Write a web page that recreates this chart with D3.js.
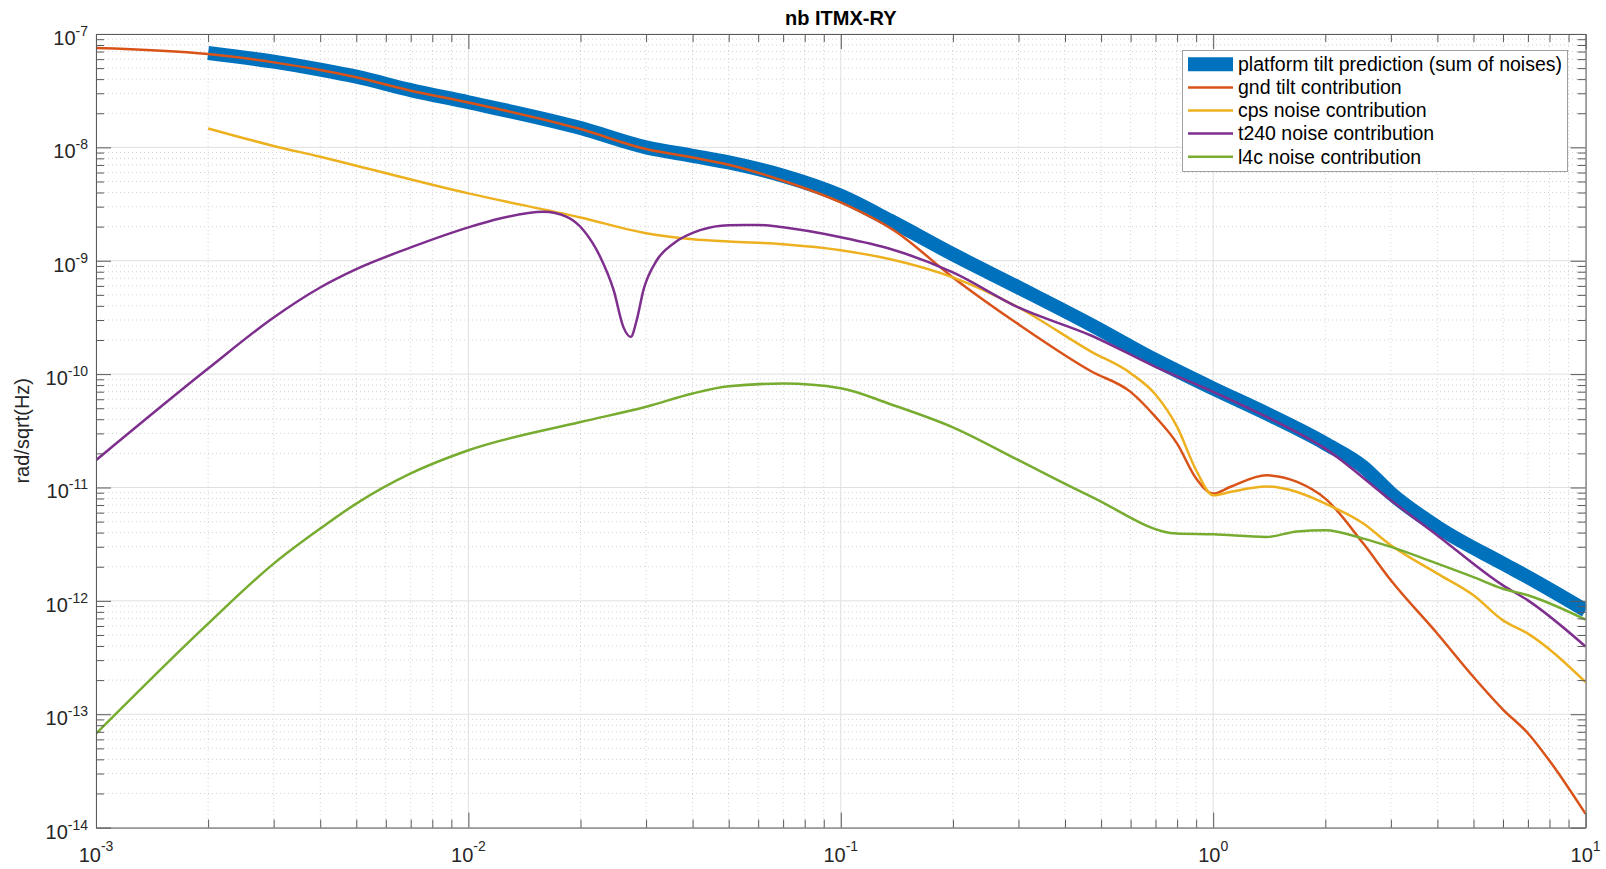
<!DOCTYPE html>
<html>
<head>
<meta charset="utf-8">
<script src="https://cdn.jsdelivr.net/npm/d3@7"></script>
<style>
  body { margin: 0; background: #fff; }
  text { font-family: "Liberation Sans", Arial, Helvetica, sans-serif; }
</style>
</head>
<body>
<div id="chart"></div>
<script>
// values (frequency in Hz, amplitude in rad/sqrt(Hz))
const sumFreq = [0.002, 0.003, 0.004, 0.005, 0.007, 0.01, 0.02, 0.03, 0.04, 0.05, 0.07, 0.1, 0.136, 0.2, 0.3, 0.47, 0.7, 1.0, 1.39, 2.0, 2.53, 3.0, 4.0, 6.0, 7.0, 10];
const sumVals = [6.8e-8, 5.7e-8, 4.85e-8, 4.2e-8, 3.2e-8, 2.5e-8, 1.48e-8, 1.0e-8, 8.43e-9, 7.36e-9, 5.62e-9, 3.74e-9, 2.25e-9, 1.14e-9, 5.81e-10, 2.72e-10, 1.33e-10, 7.46e-11, 4.49e-11, 2.44e-11, 1.52e-11, 8.9e-12, 4.48e-12, 2.13e-12, 1.62e-12, 8.24e-13];

const gndFreq = [0.001, 0.002, 0.003, 0.004, 0.005, 0.007, 0.01, 0.02, 0.03, 0.04, 0.05, 0.07, 0.1, 0.14, 0.2, 0.3, 0.47, 0.6, 0.7, 0.8, 0.9, 1.0, 1.11, 1.39, 1.68, 2.0, 2.53, 3.0, 4.0, 5.0, 6.0, 7.0, 8.0, 10];
const gndVals = [7.52e-8, 6.65e-8, 5.62e-8, 4.81e-8, 4.15e-8, 3.16e-8, 2.49e-8, 1.45e-8, 9.66e-9, 8.15e-9, 7.03e-9, 5.08e-9, 3.27e-9, 1.82e-9, 7.13e-10, 2.75e-10, 1.06e-10, 6.97e-11, 4.19e-11, 2.44e-11, 1.2e-11, 8.83e-12, 1.01e-11, 1.28e-11, 1.12e-11, 7.98e-12, 3.2e-12, 1.52e-12, 5.13e-13, 2.13e-13, 1.1e-13, 6.8e-14, 3.89e-14, 1.32e-14];

const cpsFreq = [0.002, 0.003, 0.004, 0.005, 0.01, 0.02, 0.03, 0.04, 0.05, 0.07, 0.1, 0.136, 0.2, 0.3, 0.47, 0.6, 0.7, 0.8, 0.9, 1.0, 1.11, 1.39, 1.68, 2.0, 2.53, 3.0, 4.0, 5.0, 6.0, 7.0, 10];
const cpsVals = [1.47e-8, 1.03e-8, 8.26e-9, 6.89e-9, 3.93e-9, 2.41e-9, 1.75e-9, 1.55e-9, 1.48e-9, 1.4e-9, 1.24e-9, 1.03e-9, 7.13e-10, 3.87e-10, 1.58e-10, 1.02e-10, 6.6e-11, 3.42e-11, 1.42e-11, 8.53e-12, 9.12e-12, 1.02e-11, 9.12e-12, 7.21e-12, 4.81e-12, 3.09e-12, 1.74e-12, 1.12e-12, 6.73e-13, 5.14e-13, 1.92e-13];

const t240Freq = [0.001, 0.002, 0.003, 0.004, 0.005, 0.007, 0.01, 0.01216, 0.0159, 0.01837, 0.02037, 0.0226, 0.02455, 0.02606, 0.02729, 0.02831, 0.02951, 0.03206, 0.03556, 0.04188, 0.05, 0.06, 0.07, 0.1, 0.136, 0.2, 0.3, 0.47, 0.7, 1.0, 1.39, 2.0, 3.0, 4.0, 6.0, 7.0, 10];
const t240Vals = [1.74e-11, 1.12e-10, 3.16e-10, 5.81e-10, 8.43e-10, 1.31e-9, 1.97e-9, 2.36e-9, 2.7e-9, 2.44e-9, 1.86e-9, 1.08e-9, 5.5e-10, 2.61e-10, 2.13e-10, 2.99e-10, 5.5e-10, 1.01e-9, 1.42e-9, 1.86e-9, 2.06e-9, 2.07e-9, 1.97e-9, 1.61e-9, 1.27e-9, 7.89e-10, 3.87e-10, 2.19e-10, 1.16e-10, 6.97e-11, 4.19e-11, 2.2e-11, 7.71e-12, 3.78e-12, 1.37e-12, 1.01e-12, 3.96e-13];

const l4cFreq = [0.001, 0.002, 0.003, 0.004, 0.005, 0.007, 0.01, 0.02, 0.03, 0.04, 0.05, 0.07, 0.1, 0.136, 0.2, 0.3, 0.47, 0.8, 1.0, 1.39, 1.68, 2.0, 2.53, 3.0, 4.0, 5.0, 6.0, 7.0, 10];
const l4cVals = [6.73e-14, 6.3e-13, 2.13e-12, 4.34e-12, 7.21e-12, 1.33e-11, 2.13e-11, 3.78e-11, 5.15e-11, 6.75e-11, 7.8e-11, 8.26e-11, 7.52e-11, 5.42e-11, 3.39e-11, 1.74e-11, 8.32e-12, 3.92e-12, 3.86e-12, 3.66e-12, 4.1e-12, 4.19e-12, 3.54e-12, 2.99e-12, 2.13e-12, 1.62e-12, 1.28e-12, 1.12e-12, 6.82e-13];

const seriesNames = ["platform tilt prediction (sum of noises)", "gnd tilt contribution", "cps noise contribution", "t240 noise contribution", "l4c noise contribution"];
const seriesColors = ["#0072BD", "#D95319", "#EDB120", "#7E2F8E", "#77AC30"];
const seriesWidths = [14, 2.5, 2.5, 2.5, 2.5];
const xTickExps = [-3, -2, -1, 0, 1];
const yTickExps = [-14, -13, -12, -11, -10, -9, -8, -7];

const width = 1606;
const height = 869;
const margin = {top: 34, right: 20.4, bottom: 41.4, left: 96};

const series = [
  {f: sumFreq, v: sumVals},
  {f: gndFreq, v: gndVals},
  {f: cpsFreq, v: cpsVals},
  {f: t240Freq, v: t240Vals},
  {f: l4cFreq, v: l4cVals}
];

const svg = d3.select("#chart")
  .append("svg")
  .attr("width", width)
  .attr("height", height)
  .attr("viewBox", [0, 0, width, height]);

const x = d3.scaleLog()
  .domain([1e-3, 10])
  .range([margin.left, width - margin.right]);

const y = d3.scaleLog()
  .domain([1e-14, 1e-7])
  .range([height - margin.bottom, margin.top]);

const isMajor = d => Math.abs(Math.log10(d) - Math.round(Math.log10(d))) < 1e-9;

// grid
const grid = svg.append("g");
grid.selectAll(".vx")
  .data(x.ticks())
  .join("line")
  .attr("x1", d => x(d)).attr("x2", d => x(d))
  .attr("y1", margin.top).attr("y2", height - margin.bottom)
  .attr("stroke", d => isMajor(d) ? "#e0e0e0" : "#d2d2d2")
  .attr("stroke-width", 1)
  .attr("stroke-dasharray", d => isMajor(d) ? null : "1,3");

grid.selectAll(".hy")
  .data(y.ticks())
  .join("line")
  .attr("y1", d => y(d)).attr("y2", d => y(d))
  .attr("x1", margin.left).attr("x2", width - margin.right)
  .attr("stroke", d => isMajor(d) ? "#e0e0e0" : "#d2d2d2")
  .attr("stroke-width", 1)
  .attr("stroke-dasharray", d => isMajor(d) ? null : "1,3");

// lines
svg.append("clipPath").attr("id", "clip")
  .append("rect")
  .attr("x", margin.left).attr("y", margin.top)
  .attr("width", width - margin.left - margin.right)
  .attr("height", height - margin.top - margin.bottom);

const line = d3.line()
  .x(d => x(d[0]))
  .y(d => y(d[1]))
  .curve(d3.curveMonotoneX);

svg.append("g")
  .attr("clip-path", "url(#clip)")
  .selectAll("path")
  .data(series)
  .join("path")
  .attr("fill", "none")
  .attr("stroke", (d, i) => seriesColors[i])
  .attr("stroke-width", (d, i) => seriesWidths[i])
  .attr("stroke-linejoin", "round")
  .attr("d", d => line(d.f.map((f, i) => [f, d.v[i]])));

// axes (ticks pointing inward on all four sides)
const axisColor = "#5a5a5a";
function styleAxis(g, attr, sign) {
  g.select(".domain").attr("stroke", axisColor);
  g.selectAll(".tick line")
    .attr("stroke", axisColor)
    .attr(attr, d => sign * (isMajor(d) ? 15 : 8));
}

svg.append("g")
  .attr("transform", `translate(0,${height - margin.bottom})`)
  .call(d3.axisBottom(x).tickFormat(() => "").tickSizeOuter(0))
  .call(g => styleAxis(g, "y2", -1));
svg.append("g")
  .attr("transform", `translate(0,${margin.top})`)
  .call(d3.axisTop(x).tickFormat(() => "").tickSizeOuter(0))
  .call(g => styleAxis(g, "y2", 1));
svg.append("g")
  .attr("transform", `translate(${margin.left},0)`)
  .call(d3.axisLeft(y).tickFormat(() => "").tickSizeOuter(0))
  .call(g => styleAxis(g, "x2", 1));
svg.append("g")
  .attr("transform", `translate(${width - margin.right},0)`)
  .call(d3.axisRight(y).tickFormat(() => "").tickSizeOuter(0))
  .call(g => styleAxis(g, "x2", -1));

// tick labels with superscript exponents
const xl = svg.append("g").attr("fill", "#262626").attr("font-size", 20)
  .selectAll("text")
  .data(xTickExps)
  .join("text")
  .attr("x", d => x(Math.pow(10, d)))
  .attr("y", 862)
  .attr("text-anchor", "middle");
xl.append("tspan").text("10");
xl.append("tspan").attr("dy", -11).attr("font-size", 14).text(d => d);

const yl = svg.append("g").attr("fill", "#262626").attr("font-size", 20)
  .selectAll("text")
  .data(yTickExps)
  .join("text")
  .attr("x", 88)
  .attr("y", d => y(Math.pow(10, d)) + 11)
  .attr("text-anchor", "end");
yl.append("tspan").text("10");
yl.append("tspan").attr("dy", -9).attr("font-size", 14).text(d => d);

// title and y label
svg.append("text")
  .attr("x", (margin.left + width - margin.right) / 2)
  .attr("y", 25)
  .attr("text-anchor", "middle")
  .attr("font-size", 20)
  .attr("font-weight", "bold")
  .text("nb ITMX-RY");

svg.append("text")
  .attr("transform", `translate(29,${(margin.top + height - margin.bottom) / 2}) rotate(-90)`)
  .attr("text-anchor", "middle")
  .attr("font-size", 20)
  .attr("fill", "#262626")
  .text("rad/sqrt(Hz)");

// legend
const legend = svg.append("g");
legend.append("rect")
  .attr("x", 1182.5).attr("y", 50.5)
  .attr("width", 385).attr("height", 121)
  .attr("fill", "#fff")
  .attr("stroke", "#a0a0a0");

const rows = legend.selectAll("g")
  .data(seriesNames)
  .join("g")
  .attr("transform", (d, i) => `translate(0,${64.3 + i * 23.1})`);
rows.append("line")
  .attr("x1", 1188).attr("x2", 1233)
  .attr("stroke", (d, i) => seriesColors[i])
  .attr("stroke-width", (d, i) => seriesWidths[i]);
rows.append("text")
  .attr("x", 1238)
  .attr("y", 6.8)
  .attr("font-size", 19.5)
  .attr("fill", "#000")
  .text(d => d);
</script>
</body>
</html>
